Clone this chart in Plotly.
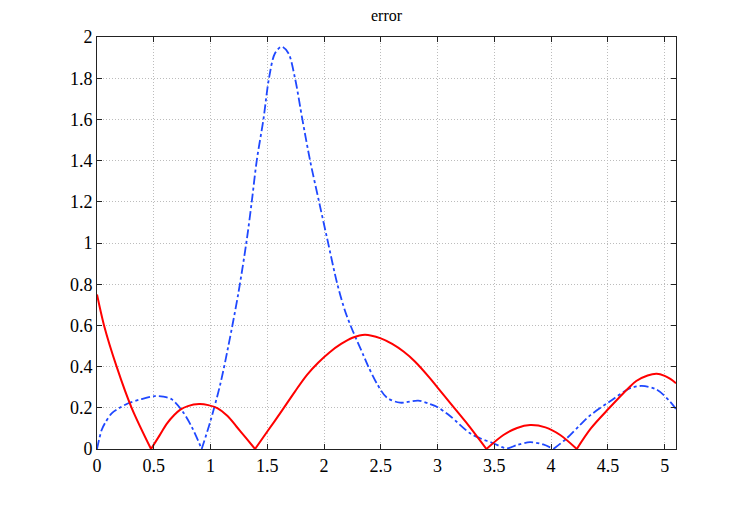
import plotly.graph_objects as go

# Solid red series
red_x = [0.0, 0.062, 0.173, 0.305, 0.476, 0.55, 0.614, 0.68, 0.731, 0.80, 0.90, 0.98, 1.06, 1.15, 1.23, 1.31, 1.392,
         1.5, 1.6, 1.745, 1.85, 1.95, 2.05, 2.15, 2.25, 2.36, 2.5, 2.6, 2.7, 2.8, 2.934, 3.0, 3.11, 3.25, 3.43,
         3.58, 3.7, 3.815, 3.95, 4.08, 4.226,
         4.35, 4.514, 4.68, 4.75, 4.85, 4.93, 5.0, 5.05, 5.1]
red_y = [0.75, 0.6, 0.4, 0.2, 0.0, 0.065, 0.122, 0.165, 0.19, 0.208, 0.218, 0.213, 0.198, 0.16, 0.108, 0.055, 0.0,
         0.085, 0.163, 0.28, 0.36, 0.42, 0.47, 0.51, 0.54, 0.555, 0.537, 0.51, 0.473, 0.425, 0.343, 0.298, 0.224, 0.13, 0.0,
         0.068, 0.102, 0.116, 0.105, 0.068, 0.0,
         0.1, 0.2, 0.295, 0.33, 0.357, 0.365, 0.355, 0.34, 0.319]

# Dash-dot blue series
blue_x = [0.0, 0.041, 0.07, 0.129, 0.2, 0.276, 0.39, 0.511, 0.584, 0.658, 0.746, 0.834, 0.922,
          0.996, 1.084, 1.157, 1.245, 1.319, 1.363, 1.407, 1.466, 1.515, 1.568, 1.627, 1.686, 1.744,
          1.809, 1.877, 1.956, 2.03, 2.117, 2.185, 2.244, 2.347, 2.39, 2.464, 2.552, 2.67, 2.83,
          2.934, 2.993, 3.11, 3.286, 3.374, 3.49, 3.61, 3.698, 3.815, 3.93, 4.02, 4.138, 4.255,
          4.344, 4.52, 4.696, 4.799, 4.93, 5.048, 5.1]
blue_y = [0.0, 0.092, 0.125, 0.173, 0.2, 0.222, 0.242, 0.257, 0.254, 0.241, 0.189, 0.108, 0.0,
          0.13, 0.31, 0.5, 0.756, 1.015, 1.2, 1.4, 1.6, 1.8, 1.921, 1.953, 1.921, 1.8,
          1.6, 1.4, 1.2, 1.015, 0.8, 0.67, 0.585, 0.455, 0.4, 0.319, 0.25, 0.225, 0.235,
          0.218, 0.205, 0.16, 0.076, 0.052, 0.028, 0.003, 0.019, 0.033, 0.022, 0.0, 0.052, 0.117,
          0.163, 0.232, 0.295, 0.306, 0.288, 0.23, 0.194]

x_ticks = [0, 0.5, 1, 1.5, 2, 2.5, 3, 3.5, 4, 4.5, 5]
x_labels = ["0", "0.5", "1", "1.5", "2", "2.5", "3", "3.5", "4", "4.5", "5"]
y_ticks = [0, 0.2, 0.4, 0.6, 0.8, 1, 1.2, 1.4, 1.6, 1.8, 2]
y_labels = ["0", "0.2", "0.4", "0.6", "0.8", "1", "1.2", "1.4", "1.6", "1.8", "2"]


def split_at_zeros(xs, ys):
    """Break a |f| curve into arcs at its cusps (zeros), so each arc is smoothed separately."""
    ox, oy = [], []
    for i, (x, y) in enumerate(zip(xs, ys)):
        ox.append(x)
        oy.append(y)
        if y == 0 and 0 < i < len(xs) - 1:
            ox.extend([None, x])
            oy.extend([None, y])
    return ox, oy


bx, by = split_at_zeros(blue_x, blue_y)
rx, ry = split_at_zeros(red_x, red_y)

fig = go.Figure()
fig.add_trace(go.Scatter(x=bx, y=by, mode="lines", connectgaps=False,
                         line=dict(color="#1f48ff", width=1.8, dash="dashdot", shape="spline", smoothing=0.9),
                         showlegend=False))
fig.add_trace(go.Scatter(x=rx, y=ry, mode="lines", connectgaps=False,
                         line=dict(color="#ff0000", width=2, shape="spline", smoothing=0.9),
                         showlegend=False))

serif = "Liberation Serif, Times New Roman, Times, serif"
axis_common = dict(
    showline=True, linecolor="#222222", linewidth=1, mirror="allticks",
    ticks="inside", ticklen=5, tickcolor="#222222",
    showgrid=True, gridcolor="#bcbcbc", griddash="1px,2px", gridwidth=1,
    zeroline=False,
    tickfont=dict(family=serif, size=18, color="#000000"),
)

fig.update_xaxes(range=[0, 5.1], tickvals=x_ticks, ticktext=x_labels, **axis_common)
fig.update_yaxes(range=[0, 2], tickvals=y_ticks, ticktext=y_labels, **axis_common)

# page has an 8px body offset: width/height and margins compensate for it
fig.update_layout(
    width=739, height=497,
    margin=dict(l=89, r=71, t=29, b=56),
    paper_bgcolor="white", plot_bgcolor="white",
    title=dict(text="error", x=(89 + 668) / 2 / 739, xanchor="center", y=1 - 7 / 497, yanchor="middle",
               font=dict(family=serif, size=16, color="#000000")),
)

fig.write_html("out.html")
